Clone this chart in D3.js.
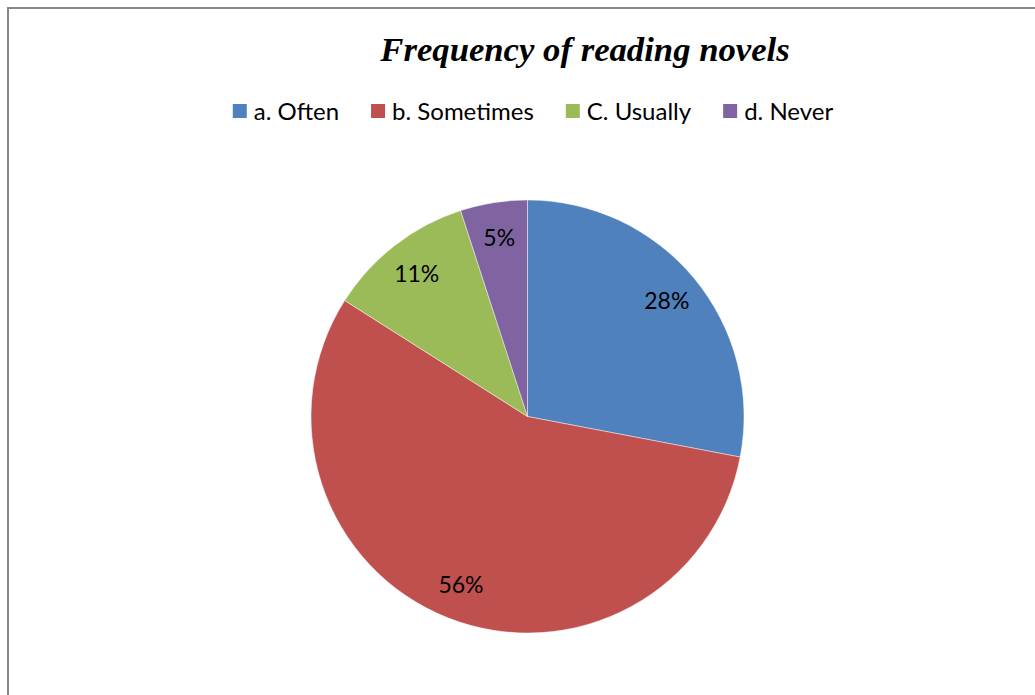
<!DOCTYPE html>
<html>
<head>
<meta charset="utf-8">
<script src="https://cdn.jsdelivr.net/npm/d3@7"></script>
<style>
  html, body { margin: 0; padding: 0; background: #fff; }
  svg { display: block; }
</style>
</head>
<body>
<svg id="chart" width="1035" height="695"></svg>
<script>
// Survey responses: how often students read novels (percent)
const categories = ["a. Often", "b. Sometimes", "C. Usually", "d. Never"];
const values = [28, 56, 11, 5];
const colors = ["#4F81BD", "#C0504D", "#9BBB59", "#8064A2"];
const title = "Frequency of reading novels";

const svg = d3.select("#chart");
const W = 1035, H = 695;

// Chart frame (runs off the right and bottom edges)
svg.append("rect")
  .attr("x", 8).attr("y", 8)
  .attr("width", W + 20).attr("height", H + 20)
  .attr("fill", "#fff")
  .attr("stroke", "#878787")
  .attr("stroke-width", 2);

// Title
svg.append("text")
  .attr("x", 585).attr("y", 61)
  .attr("text-anchor", "middle")
  .attr("font-family", "'Liberation Serif', 'Times New Roman', serif")
  .attr("font-style", "italic")
  .attr("font-weight", "bold")
  .attr("font-size", 34.7)
  .attr("fill", "#000")
  .text(title);

// Legend
const font = "Lato, 'Open Sans', sans-serif";
const legendSize = 24;
const legend = svg.append("g");
const items = legend.selectAll("g.item")
  .data(categories)
  .join("g")
  .attr("class", "item");
items.append("rect")
  .attr("width", 14).attr("height", 14)
  .attr("y", -16)
  .attr("fill", (d, i) => colors[i]);
items.append("text")
  .attr("x", 21)
  .attr("font-family", font)
  .attr("font-size", legendSize)
  .attr("fill", "#000")
  .text(d => d);

let xPos = 0;
items.each(function () {
  const g = d3.select(this);
  g.attr("transform", `translate(${xPos},0)`);
  const w = g.select("text").node().getComputedTextLength();
  xPos += 21 + w + 32;
});
const legendWidth = xPos - 32;
legend.attr("transform", `translate(${533 - legendWidth / 2},120)`);

// Pie
const cx = 527.5, cy = 416.5, r = 216.5;
const pie = d3.pie().sort(null).value(d => d)(values);
const arc = d3.arc().innerRadius(0).outerRadius(r);
const labelArc = d3.arc().innerRadius(r * 0.835).outerRadius(r * 0.835);

const g = svg.append("g").attr("transform", `translate(${cx},${cy})`);
g.selectAll("path")
  .data(pie)
  .join("path")
  .attr("d", arc)
  .attr("fill", (d, i) => colors[i])
  .attr("stroke", "#fff")
  .attr("stroke-opacity", 0.6)
  .attr("stroke-width", 0.75);

g.selectAll("text.label")
  .data(pie)
  .join("text")
  .attr("class", "label")
  .attr("transform", d => `translate(${labelArc.centroid(d)})`)
  .attr("text-anchor", "middle")
  .attr("dy", "0.35em")
  .attr("font-family", font)
  .attr("font-size", 23)
  .attr("fill", "#000")
  .text(d => d.data + "%");
</script>
</body>
</html>
